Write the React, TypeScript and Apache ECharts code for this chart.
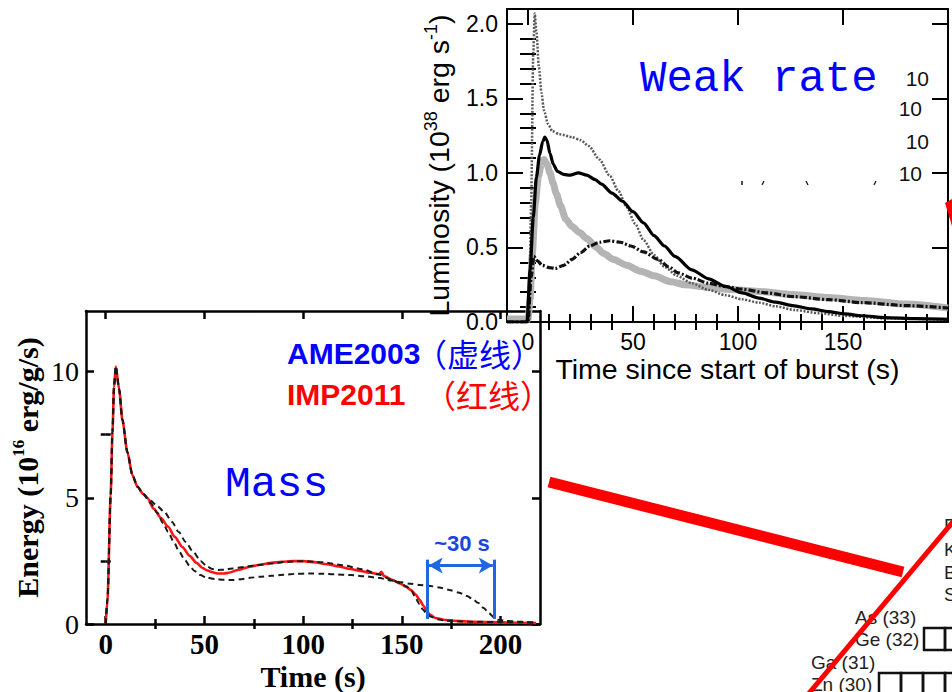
import React, { useEffect, useRef } from "react";
import * as echarts from "echarts";

// ---------- Lower chart (Mass): Energy vs Time ----------
const impT = [0, 0.9, 2.5, 3.4, 4.2, 5.1, 6.8, 8.4, 11, 13.5, 16, 19, 21, 24.4, 28, 31.6, 35, 38.8, 42.5, 46, 49, 51.5, 54, 57, 60, 62.3, 67, 73, 78, 84, 89, 94.8, 100, 105.7, 112, 118, 124, 129, 134, 138.5, 139.6, 141, 145, 149, 152, 154.5, 157, 159, 161, 162.6, 164.5, 167, 171, 176, 183, 190.6, 200, 210, 218];
const impE = [0, 1.0, 5.1, 7.6, 9.4, 10.2, 9.3, 8.1, 6.8, 5.9, 5.45, 5.15, 5.0, 4.56, 4.2, 3.85, 3.45, 3.05, 2.7, 2.42, 2.22, 2.12, 2.05, 2.0, 2.0, 2.03, 2.14, 2.27, 2.35, 2.42, 2.46, 2.49, 2.49, 2.45, 2.37, 2.28, 2.18, 2.1, 2.03, 1.97, 2.07, 1.9, 1.75, 1.61, 1.48, 1.35, 1.17, 0.96, 0.72, 0.5, 0.36, 0.24, 0.17, 0.13, 0.1, 0.08, 0.065, 0.05, 0.04];

const ameAT = [0, 0.9, 2.5, 3.4, 4.2, 5.1, 6.8, 8.4, 11, 13.5, 16, 19, 22.6, 26, 29.8, 33.5, 37, 40.5, 44.3, 48, 51.5, 54, 57, 60, 64, 70, 76.8, 84, 91, 100, 110, 120, 130, 138, 145, 149, 152.7, 155, 157, 159, 160.8, 162.5, 164.4, 168, 172.5, 180, 190, 200, 210, 218];
const ameAE = [0, 1.0, 5.1, 7.6, 9.4, 10.2, 9.3, 8.1, 6.8, 5.9, 5.45, 5.15, 4.89, 4.68, 4.43, 4.05, 3.64, 3.25, 2.86, 2.5, 2.27, 2.18, 2.14, 2.15, 2.2, 2.26, 2.33, 2.4, 2.46, 2.49, 2.45, 2.33, 2.17, 1.97, 1.75, 1.62, 1.48, 1.3, 1.02, 0.78, 0.56, 0.42, 0.3, 0.19, 0.13, 0.1, 0.085, 0.075, 0.068, 0.065];

const ameBT = [0, 0.9, 2.5, 3.4, 4.2, 5.1, 6.8, 8.4, 11, 13.5, 16, 19, 22.6, 26.2, 29, 31.6, 34.5, 37, 40, 42.5, 45, 47.9, 51, 55, 60, 64, 68, 73, 78, 84, 90, 96.7, 103, 109, 116, 123.8, 131, 138, 145, 150, 154.5, 159, 163.5, 169, 174, 179, 183, 186, 188.8, 191.5, 194.2, 196.5, 198.7, 203, 208.7, 213, 218];
const ameBE = [0, 1.0, 5.1, 7.6, 9.4, 10.2, 9.3, 8.1, 6.8, 5.9, 5.45, 5.15, 4.8, 4.4, 4.0, 3.65, 3.25, 2.9, 2.55, 2.3, 2.1, 1.94, 1.84, 1.78, 1.75, 1.74, 1.77, 1.83, 1.87, 1.91, 1.95, 1.99, 2.0, 1.99, 1.97, 1.94, 1.89, 1.83, 1.72, 1.65, 1.59, 1.55, 1.52, 1.45, 1.35, 1.24, 1.11, 0.98, 0.83, 0.63, 0.43, 0.27, 0.17, 0.12, 0.1, 0.07, 0.04];

const lowerXMajor = [0, 50, 100, 150, 200];
const lowerXMinor = [25, 75, 125, 175];
const lowerYMajor = [0, 5, 10];
const lowerYMinor = [2.5, 7.5];

// ~30 s shift markers (time, energy)
const shiftStart = 163;
const shiftEnd = 196.7;
const shiftArrowE = 2.32;
const shiftLineE = [0.2, 2.55];

// ---------- Upper chart (Weak rate): Luminosity vs Time ----------
const lumSolidT = [-10, -0.5, 1, 2.5, 4, 5.5, 7, 8, 9, 10.5, 12, 14, 17, 20, 24, 28, 32, 35, 40, 45, 50, 55, 60, 65, 70, 78, 86, 94, 102, 110, 118, 126, 135, 143, 151, 159, 170, 185, 200];
const lumSolidV = [0, 0, 0.35, 0.7, 0.97, 1.12, 1.21, 1.24, 1.22, 1.13, 1.06, 1.01, 0.99, 0.985, 1.0, 0.985, 0.955, 0.925, 0.865, 0.81, 0.74, 0.665, 0.58, 0.51, 0.44, 0.35, 0.29, 0.24, 0.195, 0.16, 0.133, 0.11, 0.088, 0.07, 0.054, 0.042, 0.03, 0.022, 0.018];

const lumGrayT = [-10, 0, 1, 2, 3.5, 5, 6.5, 7.6, 9, 10.5, 12, 13.5, 15.5, 18, 21, 24.6, 28, 32.7, 36, 40.8, 47, 53.7, 60, 68, 75, 84, 94, 110, 126, 143, 160, 180, 200];
const lumGrayV = [0.02, 0.02, 0.15, 0.45, 0.8, 0.98, 1.07, 1.09, 1.06, 1.0, 0.93, 0.86, 0.78, 0.69, 0.64, 0.6, 0.56, 0.5, 0.46, 0.42, 0.38, 0.34, 0.31, 0.27, 0.25, 0.235, 0.22, 0.205, 0.185, 0.165, 0.145, 0.12, 0.094];

const lumDotT = [-10, 0.5, 1.5, 2.5, 3.2, 4, 5.2, 6.4, 7.6, 9.5, 11.6, 15, 21, 25, 29, 34, 39, 43, 47, 51, 55, 60, 65, 71, 78, 86, 94, 102, 110, 118, 127, 139, 151, 170, 200];
const lumDotV = [0, 0, 0.8, 1.8, 2.07, 1.95, 1.71, 1.54, 1.42, 1.33, 1.28, 1.26, 1.24, 1.22, 1.18, 1.09, 0.98, 0.88, 0.77, 0.66, 0.55, 0.45, 0.37, 0.31, 0.26, 0.215, 0.18, 0.152, 0.13, 0.105, 0.08, 0.058, 0.04, 0.025, 0.015];

const lumDashDotT = [-10, 0, 1.5, 2.8, 4.5, 6.8, 10, 13, 17, 21, 25, 29.4, 34, 39, 44, 49, 55, 62, 67, 71.5, 78, 86, 94, 102, 114, 126.5, 143, 159, 180, 200];
const lumDashDotV = [0, 0, 0.3, 0.44, 0.41, 0.38, 0.365, 0.36, 0.38, 0.42, 0.465, 0.51, 0.535, 0.545, 0.535, 0.51, 0.47, 0.42, 0.37, 0.33, 0.295, 0.26, 0.238, 0.22, 0.195, 0.17, 0.15, 0.13, 0.11, 0.094];

const upperXMajor = [0, 50, 100, 150];
const upperXMinor = [10, 20, 30, 40, 60, 70, 80, 90, 110, 120, 130, 140, 160, 170, 180, 190];
const upperYMajor = [0, 0.5, 1.0, 1.5, 2.0];
const upperYMinor = [0.1, 0.2, 0.3, 0.4, 0.6, 0.7, 0.8, 0.9, 1.1, 1.2, 1.3, 1.4, 1.6, 1.7, 1.8, 1.9];

// background collage labels
const sideTens = ["10", "10", "10", "10"];
const elemRight = ["Rb (37)", "Kr (36)", "Br (35)", "Se (34)"];
const elemMid = ["As (33)", "Ge (32)"];
const elemLow = ["Ga (31)", "Zn (30)"];

const zip = (t: number[], v: number[]) => t.map((x, i) => [x, v[i]]);

const SERIF = '"Liberation Serif", "Times New Roman", serif';
const SANS = '"Liberation Sans", Arial, sans-serif';
const MONO = '"Liberation Mono", "DejaVu Sans Mono", monospace';
const CJK = '"Noto Sans CJK SC", sans-serif';

function xAxes(grid: number, min: number, max: number, major: number[], minor: number[], cfg: any) {
  const lineStyle = { color: "#000", width: cfg.lw };
  const tickStyle = { color: "#000", width: cfg.lw };
  return [
    {
      gridIndex: grid, type: "value", min, max, position: "bottom",
      axisLine: { show: true, onZero: false, lineStyle },
      axisTick: { show: true, inside: true, length: cfg.major, customValues: major, lineStyle: tickStyle },
      axisLabel: { show: true, customValues: major, margin: cfg.labelMargin, ...cfg.label },
      splitLine: { show: false },
      name: cfg.name, nameLocation: "middle", nameGap: cfg.nameGap, nameTextStyle: cfg.nameStyle,
    },
    {
      gridIndex: grid, type: "value", min, max, position: "bottom",
      axisLine: { show: false },
      axisTick: { show: true, inside: true, length: cfg.minor, customValues: minor, lineStyle: tickStyle },
      axisLabel: { show: false }, splitLine: { show: false },
    },
    {
      gridIndex: grid, type: "value", min, max, position: "top",
      axisLine: { show: true, onZero: false, lineStyle },
      axisTick: { show: true, inside: true, length: cfg.major, customValues: major, lineStyle: tickStyle },
      axisLabel: { show: false }, splitLine: { show: false },
    },
    {
      gridIndex: grid, type: "value", min, max, position: "top",
      axisLine: { show: false },
      axisTick: { show: true, inside: true, length: cfg.minor, customValues: minor, lineStyle: tickStyle },
      axisLabel: { show: false }, splitLine: { show: false },
    },
  ];
}

function yAxes(grid: number, min: number, max: number, major: number[], minor: number[], cfg: any) {
  const lineStyle = { color: "#000", width: cfg.lw };
  const tickStyle = { color: "#000", width: cfg.lw };
  return [
    {
      gridIndex: grid, type: "value", min, max, position: "left",
      axisLine: { show: true, onZero: false, lineStyle },
      axisTick: { show: true, inside: true, length: cfg.major, customValues: major, lineStyle: tickStyle },
      axisLabel: { show: true, customValues: major, margin: cfg.labelMargin, ...cfg.label },
      splitLine: { show: false },
      name: cfg.name, nameLocation: "middle", nameGap: cfg.nameGap, nameTextStyle: cfg.nameStyle,
    },
    {
      gridIndex: grid, type: "value", min, max, position: "left",
      axisLine: { show: false },
      axisTick: { show: true, inside: true, length: cfg.minor, customValues: minor, lineStyle: tickStyle },
      axisLabel: { show: false }, splitLine: { show: false },
    },
    {
      gridIndex: grid, type: "value", min, max, position: "right",
      axisLine: { show: true, onZero: false, lineStyle },
      axisTick: { show: true, inside: true, length: cfg.major, customValues: major, lineStyle: tickStyle },
      axisLabel: { show: false }, splitLine: { show: false },
    },
    {
      gridIndex: grid, type: "value", min, max, position: "right",
      axisLine: { show: false },
      axisTick: { show: true, inside: true, length: cfg.minor, customValues: minor, lineStyle: tickStyle },
      axisLabel: { show: false }, splitLine: { show: false },
    },
  ];
}

function buildOption() {
  const lowerX = xAxes(0, -10, 220, lowerXMajor, lowerXMinor, {
    lw: 2.5, major: 8, minor: 5, labelMargin: 5,
    label: { fontFamily: SERIF, fontWeight: "bold", fontSize: 29, color: "#000" },
    name: "Time (s)", nameGap: 37,
    nameStyle: { fontFamily: SERIF, fontWeight: "bold", fontSize: 30, color: "#000" },
  });
  const lowerY = yAxes(0, 0, 12.4, lowerYMajor, lowerYMinor, {
    lw: 2.5, major: 8, minor: 5, labelMargin: 7,
    label: { fontFamily: SERIF, fontSize: 28, color: "#000" },
    name: "{a|Energy (10}{s|16}{a| erg/g/s)}", nameGap: 42,
    nameStyle: {
      fontFamily: SERIF, fontWeight: "bold", fontSize: 30, color: "#000",
      rich: {
        a: { fontFamily: SERIF, fontWeight: "bold", fontSize: 30, lineHeight: 34, color: "#000" },
        s: { fontFamily: SERIF, fontWeight: "bold", fontSize: 17, lineHeight: 20, verticalAlign: "top", color: "#000" },
      },
    },
  });
  const upperX = xAxes(1, -10, 200, upperXMajor, upperXMinor, {
    lw: 2, major: 16, minor: 8, labelMargin: 8,
    label: { fontFamily: SANS, fontSize: 23, color: "#000" },
    name: "Time since start of burst (s)", nameGap: 32,
    nameStyle: { fontFamily: SANS, fontSize: 28.5, color: "#000" },
  });
  const upperY = yAxes(1, 0, 2.1, upperYMajor, upperYMinor, {
    lw: 2, major: 16, minor: 8, labelMargin: 9,
    label: { fontFamily: SANS, fontSize: 23, color: "#000", formatter: (v: number) => v.toFixed(1) },
    name: "{a|Luminosity (10}{s|38}{a| erg s}{s|-1}{a|)}", nameGap: 52,
    nameStyle: {
      fontFamily: SANS, fontSize: 28.5, color: "#000",
      rich: {
        a: { fontFamily: SANS, fontSize: 28.5, lineHeight: 33, color: "#000" },
        s: { fontFamily: SANS, fontSize: 18, lineHeight: 20, verticalAlign: "top", color: "#000" },
      },
    },
  });

  const lowerBase = { xAxisIndex: 0, yAxisIndex: 0, type: "line", showSymbol: false, smooth: 0.25, smoothMonotone: "x", silent: true };
  const upperBase = { xAxisIndex: 4, yAxisIndex: 4, type: "line", showSymbol: false, smooth: 0.25, smoothMonotone: "x", silent: true };
  const arrowBlue = "#1f66e0";

  const series: any[] = [
    {
      ...lowerBase, name: "IMP2011", data: zip(impT, impE),
      lineStyle: { color: "#ff1414", width: 2.6 }, z: 3,
      markLine: {
        silent: true, symbol: ["none", "none"], animation: false,
        label: { show: false },
        lineStyle: { color: arrowBlue, width: 3, type: "solid" },
        data: [
          [{ coord: [shiftStart, shiftLineE[0]] }, { coord: [shiftStart, shiftLineE[1]] }],
          [{ coord: [shiftEnd, shiftLineE[0]] }, { coord: [shiftEnd, shiftLineE[1]] }],
          [
            { coord: [shiftStart + 0.6, shiftArrowE], symbol: "arrow", symbolSize: [12, 14] },
            { coord: [shiftEnd - 0.6, shiftArrowE], symbol: "arrow", symbolSize: [12, 14] },
          ],
        ],
      },
    },
    { ...lowerBase, name: "AME2003 A", data: zip(ameAT, ameAE), lineStyle: { color: "#1a1a1a", width: 2, type: [6, 4] }, z: 4 },
    { ...lowerBase, name: "AME2003 B", data: zip(ameBT, ameBE), lineStyle: { color: "#1a1a1a", width: 2, type: [6, 4] }, z: 4 },

    { ...upperBase, name: "gray", data: zip(lumGrayT, lumGrayV), lineStyle: { color: "#b4b4b4", width: 7 }, z: 3 },
    { ...upperBase, name: "dotted", data: zip(lumDotT, lumDotV), lineStyle: { color: "#5a5a5a", width: 2.5, type: [2, 1.5] }, z: 4 },
    { ...upperBase, name: "dashdot", data: zip(lumDashDotT, lumDashDotV), lineStyle: { color: "#111", width: 3.2, type: [7, 2, 2, 2] }, z: 5 },
    { ...upperBase, name: "solid", data: zip(lumSolidT, lumSolidV), lineStyle: { color: "#000", width: 3.2 }, z: 6 },
  ];

  const txt = (text: string, x: number, y: number, font: string, fill: string, align = "left", z = 10) => ({
    type: "text", x, y, z, silent: true,
    style: { text, font, fill, textAlign: align, textVerticalAlign: "middle" },
  });

  const graphic: any[] = [
    txt("Weak rate", 640, 79, `44px ${MONO}`, "#0000ff"),
    txt("Mass", 225, 484, `43px ${MONO}`, "#0000ff"),
    txt("AME2003", 287, 353, `bold 30px ${SANS}`, "#0000ff"),
    txt("（虚线）", 415, 353, `32px ${CJK}`, "#0000ff"),
    txt("IMP2011", 287, 394, `bold 30px ${SANS}`, "#ff0000"),
    txt("（红线）", 424, 394, `32px ${CJK}`, "#ff0000"),
    txt("~30 s", 462, 543, `bold 22px ${SANS}`, "#1a46e0", "center"),

    txt(sideTens[0], 929, 78, `21px ${SANS}`, "#111", "right"),
    txt(sideTens[1], 922, 108, `21px ${SANS}`, "#111", "right"),
    txt(sideTens[2], 929, 141, `21px ${SANS}`, "#111", "right"),
    txt(sideTens[3], 922, 173, `21px ${SANS}`, "#111", "right"),

    { type: "line", z: 10, silent: true, shape: { x1: 742, y1: 181, x2: 742, y2: 185 }, style: { stroke: "#111", lineWidth: 1.5 } },
    { type: "line", z: 10, silent: true, shape: { x1: 762, y1: 185, x2: 764, y2: 181 }, style: { stroke: "#111", lineWidth: 1.2 } },
    { type: "line", z: 10, silent: true, shape: { x1: 806, y1: 181, x2: 808, y2: 185 }, style: { stroke: "#111", lineWidth: 1.2 } },
    { type: "line", z: 10, silent: true, shape: { x1: 874, y1: 185, x2: 876, y2: 181 }, style: { stroke: "#111", lineWidth: 1.2 } },

    { type: "polygon", z: 10, silent: true, shape: { points: [[945, 203], [952, 199], [952, 226]] }, style: { fill: "#ff0000" } },

    txt(elemRight[0], 944, 525, `19px ${SANS}`, "#222"),
    txt(elemRight[1], 944, 549, `19px ${SANS}`, "#222"),
    txt(elemRight[2], 944, 572, `19px ${SANS}`, "#222"),
    txt(elemRight[3], 944, 594, `19px ${SANS}`, "#222"),
    txt(elemMid[0], 855, 617, `19px ${SANS}`, "#222"),
    txt(elemMid[1], 855, 639, `19px ${SANS}`, "#222"),
    txt(elemLow[0], 811, 662, `19px ${SANS}`, "#222"),
    txt(elemLow[1], 811, 684, `19px ${SANS}`, "#222"),

    { type: "rect", z: 10, silent: true, shape: { x: 924, y: 628, width: 21, height: 22 }, style: { fill: "none", stroke: "#111", lineWidth: 2.5 } },
    { type: "rect", z: 10, silent: true, shape: { x: 945, y: 628, width: 21, height: 22 }, style: { fill: "none", stroke: "#111", lineWidth: 2.5 } },
    { type: "rect", z: 10, silent: true, shape: { x: 879, y: 673, width: 22, height: 26 }, style: { fill: "none", stroke: "#111", lineWidth: 2.5 } },
    { type: "rect", z: 10, silent: true, shape: { x: 901, y: 673, width: 22, height: 26 }, style: { fill: "none", stroke: "#111", lineWidth: 2.5 } },
    { type: "rect", z: 10, silent: true, shape: { x: 923, y: 673, width: 22, height: 26 }, style: { fill: "none", stroke: "#111", lineWidth: 2.5 } },
    { type: "rect", z: 10, silent: true, shape: { x: 945, y: 673, width: 22, height: 26 }, style: { fill: "none", stroke: "#111", lineWidth: 2.5 } },

    { type: "line", z: 20, silent: true, shape: { x1: 549, y1: 482, x2: 903, y2: 572 }, style: { stroke: "#ff0000", lineWidth: 11, lineCap: "butt" } },
    { type: "line", z: 20, silent: true, shape: { x1: 800, y1: 704, x2: 962, y2: 511 }, style: { stroke: "#ff0000", lineWidth: 5, lineCap: "butt" } },
  ];

  return {
    animation: false,
    backgroundColor: "#ffffff",
    grid: [
      { left: 86, top: 311, right: 412, bottom: 65, containLabel: false },
      { left: 507, top: 9, right: 4, bottom: 370, containLabel: false },
    ],
    xAxis: [...lowerX, ...upperX],
    yAxis: [...lowerY, ...upperY],
    series,
    graphic,
  };
}

export default function App() {
  const ref = useRef<HTMLDivElement>(null);
  useEffect(() => {
    if (!ref.current) return;
    const chart = echarts.init(ref.current, undefined, { renderer: "svg" });
    chart.setOption(buildOption() as any);
    return () => chart.dispose();
  }, []);
  return (
    <div
      ref={ref}
      style={{ position: "absolute", left: 0, top: 0, width: 952, height: 692, background: "#fff" }}
    />
  );
}
